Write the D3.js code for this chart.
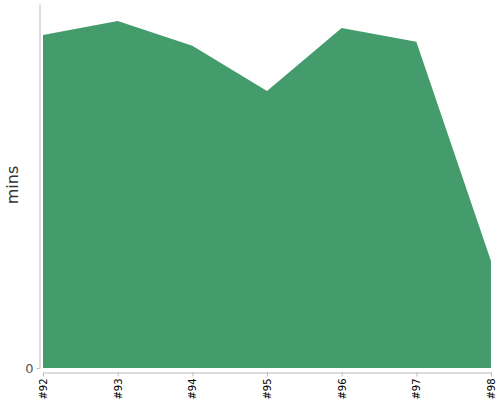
<!DOCTYPE html>
<html>
<head>
<meta charset="utf-8">
<script src="https://d3js.org/d3.v7.min.js"></script>
<style>
  body { margin: 0; background: #fff; }
  svg text { font-family: "DejaVu Sans", sans-serif; }
</style>
</head>
<body>
<script>
// episodes along the x axis
var episodes = ["#92", "#93", "#94", "#95", "#96", "#97", "#98"];
// minutes per episode
var mins = [91.5, 95.3, 88.5, 76.1, 93.4, 89.6, 29.4];
// only the zero tick is labelled
var yTicks = [0];

var w = 500;
var h = 400;
const margin = {top: 4, bottom: 32, right: 9, left: 43};

var data = episodes.map(function(e, i) { return {ep: e, v: mins[i]}; });

var xScale = d3.scalePoint()
               .domain(episodes)
               .range([margin.left, w - margin.right]);

var yScale = d3.scaleLinear()
               .domain([0, 100])
               .range([h - margin.bottom, margin.top]);

var svg = d3.select("body")
            .append("svg")
            .attr("width", w)
            .attr("height", h);

// the area
var area = d3.area()
             .x(function(d) { return xScale(d.ep); })
             .y0(yScale(0))
             .y1(function(d) { return yScale(d.v); });

svg.append("path")
   .datum(data)
   .attr("d", area)
   .attr("fill", "#449b6b");

// x axis, a little below the plot
var xAxis = svg.append("g")
   .attr("transform", "translate(0," + (h - margin.bottom + 4.5) + ")")
   .call(d3.axisBottom(xScale).tickSize(4).tickSizeOuter(0));

xAxis.select(".domain").attr("stroke", "#bbb");
xAxis.selectAll(".tick line").attr("stroke", "#bbb");
xAxis.selectAll(".tick text")
     .attr("transform", "rotate(-90)")
     .attr("text-anchor", "end")
     .attr("x", -6)
     .attr("y", 0)
     .attr("dy", "0.35em")
     .attr("font-size", "10px")
     .attr("fill", "#000");

// y axis, a little left of the plot
var yAxis = svg.append("g")
   .attr("transform", "translate(" + (margin.left - 3.5) + ",0)")
   .call(d3.axisLeft(yScale).tickValues(yTicks).tickSize(3).tickSizeOuter(0));

yAxis.select(".domain").attr("stroke", "#bbb");
yAxis.selectAll(".tick line").attr("stroke", "#bbb");
yAxis.selectAll(".tick text")
     .attr("font-size", "13px")
     .attr("fill", "#555")
     .attr("x", -6);

// y label
svg.append("text")
   .attr("transform", "rotate(-90)")
   .attr("x", -185)
   .attr("y", 18)
   .attr("text-anchor", "middle")
   .attr("font-size", "16px")
   .attr("fill", "#333")
   .text("mins");
</script>
</body>
</html>
